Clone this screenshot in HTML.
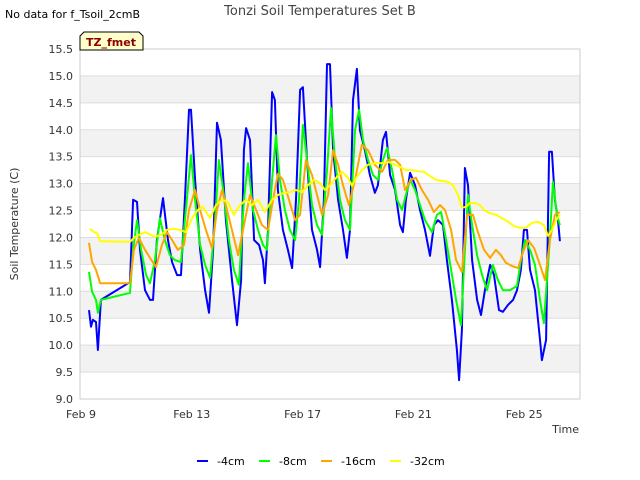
<!DOCTYPE html>
<html><head><meta charset="utf-8"><style>
body{margin:0;background:#fff;}
svg{display:block;font-family:"DejaVu Sans","Liberation Sans",sans-serif;}
</style></head><body>
<svg id="chart" width="640" height="480" viewBox="0 0 640 480">
<rect x="0" y="0" width="640" height="480" fill="#fff"/>
<g id="bands"></g>
<g id="grid"></g>
<rect x="80" y="49" width="500" height="350" fill="none" stroke="#ccc" stroke-width="1"/>
<g id="yticks"></g>
<g id="xticks"></g>
<g id="series"></g>
<text x="5" y="18" font-size="11" fill="#000">No data for f_Tsoil_2cmB</text>
<text x="320" y="15" font-size="13" fill="#444" text-anchor="middle">Tonzi Soil Temperatures Set B</text>
<path d="M84,32 L139,32 L143,36 L143,50 L80,50 L80,36 Z" fill="#ffffcc" stroke="#000" stroke-width="1"/>
<text x="111" y="46" font-size="11" font-weight="bold" fill="#8b0000" text-anchor="middle">TZ_fmet</text>
<text transform="translate(18,224) rotate(-90)" font-size="11" fill="#333" text-anchor="middle">Soil Temperature (C)</text>
<text x="579" y="433" font-size="11" fill="#333" text-anchor="end">Time</text>
<g>
<line x1="197" y1="461" x2="208" y2="461" stroke="#0000ff" stroke-width="2"/>
<text x="217" y="465" font-size="11" fill="#000">-4cm</text>
<line x1="259" y1="461" x2="270" y2="461" stroke="#00ff00" stroke-width="2"/>
<text x="279" y="465" font-size="11" fill="#000">-8cm</text>
<line x1="321" y1="461" x2="332" y2="461" stroke="#ffa500" stroke-width="2"/>
<text x="341" y="465" font-size="11" fill="#000">-16cm</text>
<line x1="390" y1="461" x2="401" y2="461" stroke="#ffff00" stroke-width="2"/>
<text x="410" y="465" font-size="11" fill="#000">-32cm</text>
</g>
</svg>
<script>
const yTicks=[9.0,9.5,10.0,10.5,11.0,11.5,12.0,12.5,13.0,13.5,14.0,14.5,15.0,15.5];
const xTickDays=[0,4,8,12,16];
const xTickLabels=["Feb 9","Feb 13","Feb 17","Feb 21","Feb 25"];
const d4=[0.29,0.36,0.43,0.54,0.61,0.72,1.77,1.88,2.02,2.13,2.31,2.49,2.60,2.74,2.96,3.14,3.29,3.47,3.61,3.75,3.90,3.97,4.12,4.30,4.48,4.62,4.77,4.91,5.05,5.23,5.45,5.63,5.78,5.88,5.96,6.10,6.25,6.43,6.57,6.64,6.75,6.90,7.00,7.11,7.29,7.47,7.62,7.76,7.91,8.01,8.16,8.34,8.52,8.63,8.77,8.88,8.99,9.10,9.28,9.46,9.60,9.71,9.82,9.96,10.07,10.25,10.43,10.61,10.72,10.90,11.01,11.16,11.34,11.52,11.62,11.73,11.88,12.06,12.24,12.42,12.60,12.74,12.89,13.07,13.21,13.39,13.57,13.65,13.75,13.86,13.97,14.12,14.30,14.44,14.58,14.77,14.91,15.09,15.23,15.42,15.60,15.74,15.88,15.99,16.10,16.21,16.39,16.57,16.64,16.79,16.90,17.00,17.11,17.22,17.29];
const t4=[10.65,10.34,10.47,10.43,9.91,10.84,11.17,12.70,12.66,11.77,11.02,10.84,10.84,11.95,12.73,11.95,11.54,11.30,11.30,12.70,14.37,14.37,13.07,11.77,11.02,10.60,11.77,14.13,13.81,12.32,11.21,10.37,11.21,13.62,14.03,13.81,11.95,11.86,11.58,11.15,12.14,14.70,14.55,12.88,12.14,11.77,11.43,12.70,14.74,14.79,13.44,12.14,11.77,11.45,12.70,15.22,15.22,13.62,12.70,12.14,11.62,12.14,14.55,15.13,13.99,13.62,13.16,12.83,12.97,13.81,13.96,13.16,12.88,12.23,12.10,12.70,13.20,12.97,12.51,12.14,11.66,12.23,12.32,12.23,11.58,10.84,9.91,9.35,10.28,13.29,12.97,11.58,10.84,10.56,11.02,11.49,11.30,10.65,10.62,10.75,10.84,11.02,11.40,12.14,12.14,11.40,11.02,10.10,9.72,10.10,13.59,13.59,12.70,12.32,11.93];
const d8=[0.29,0.40,0.54,0.61,0.72,1.77,1.88,2.02,2.17,2.35,2.49,2.67,2.85,3.03,3.21,3.39,3.61,3.75,3.97,4.12,4.30,4.48,4.66,4.84,4.98,5.16,5.34,5.52,5.70,5.88,6.03,6.21,6.39,6.57,6.71,6.90,7.04,7.18,7.36,7.54,7.73,7.87,8.01,8.16,8.34,8.52,8.70,8.88,9.03,9.17,9.35,9.53,9.71,9.89,10.04,10.18,10.36,10.54,10.72,10.90,11.05,11.23,11.41,11.59,11.73,11.88,12.06,12.24,12.42,12.67,12.85,13.00,13.18,13.36,13.54,13.72,13.86,13.97,14.12,14.30,14.48,14.66,14.87,15.05,15.23,15.49,15.74,15.88,16.03,16.21,16.39,16.57,16.71,16.90,17.04,17.18,17.29];
const t8=[11.36,10.99,10.84,10.60,10.84,10.97,11.77,12.32,11.77,11.30,11.15,11.58,12.36,11.95,11.67,11.58,11.54,12.32,13.53,12.70,11.86,11.49,11.25,12.32,13.44,12.79,11.95,11.40,11.12,12.70,13.38,12.51,12.14,11.86,11.77,13.07,13.90,13.07,12.51,12.14,11.95,12.70,14.09,13.44,12.60,12.23,12.05,13.25,14.40,13.44,12.70,12.32,12.14,13.99,14.37,13.81,13.44,13.16,13.07,13.44,13.66,13.25,12.70,12.51,12.79,13.07,12.88,12.60,12.32,12.10,12.42,12.47,11.95,11.40,10.84,10.37,11.77,12.79,12.23,11.67,11.30,11.02,11.49,11.21,11.02,11.02,11.10,11.58,11.95,11.77,11.49,10.84,10.41,11.77,13.03,12.42,12.23];
const d16=[0.29,0.40,0.54,0.69,1.77,1.91,2.09,2.31,2.49,2.71,2.92,3.10,3.29,3.50,3.72,3.90,4.12,4.30,4.51,4.73,4.91,5.09,5.27,5.49,5.67,5.85,6.10,6.32,6.53,6.75,6.93,7.11,7.29,7.51,7.73,7.91,8.12,8.34,8.52,8.70,8.92,9.10,9.28,9.46,9.67,9.89,10.14,10.36,10.61,10.87,11.08,11.34,11.52,11.70,11.91,12.09,12.31,12.53,12.74,12.96,13.14,13.36,13.54,13.75,13.94,14.15,14.33,14.55,14.77,14.98,15.16,15.34,15.56,15.78,15.96,16.14,16.36,16.57,16.75,16.93,17.11,17.29];
const t16=[11.90,11.54,11.40,11.15,11.15,11.77,11.99,11.77,11.62,11.45,11.86,12.10,11.95,11.77,11.86,12.51,12.88,12.51,12.14,11.80,12.51,12.88,12.51,12.05,11.67,12.14,12.79,12.51,12.23,12.14,12.70,13.18,13.07,12.70,12.32,12.42,13.44,13.16,12.79,12.42,12.79,13.62,13.35,12.97,12.60,13.07,13.72,13.62,13.35,13.22,13.44,13.44,13.35,12.88,13.07,13.11,12.88,12.70,12.47,12.60,12.51,12.14,11.58,11.36,12.42,12.42,12.10,11.77,11.62,11.77,11.67,11.53,11.47,11.43,11.73,11.95,11.80,11.49,11.21,11.95,12.42,12.47];
const d32=[0.32,0.47,0.58,0.69,1.77,1.95,2.31,2.67,2.92,3.10,3.32,3.57,3.79,4.01,4.22,4.40,4.66,4.87,5.09,5.30,5.52,5.74,5.96,6.17,6.39,6.64,6.90,7.11,7.33,7.54,7.76,7.98,8.19,8.41,8.63,8.81,8.99,9.21,9.42,9.64,9.78,9.93,10.14,10.36,10.61,10.87,11.12,11.34,11.52,11.73,11.95,12.17,12.38,12.60,12.82,13.03,13.25,13.43,13.61,13.75,13.90,14.04,14.22,14.40,14.55,14.77,14.98,15.20,15.42,15.63,15.85,16.06,16.28,16.50,16.71,16.86,17.00,17.15,17.29];
const t32=[12.16,12.10,12.08,11.93,11.92,12.01,12.10,12.01,12.06,12.14,12.16,12.14,12.10,12.36,12.51,12.57,12.36,12.60,12.70,12.66,12.42,12.60,12.70,12.60,12.70,12.47,12.70,12.79,12.83,12.84,12.88,12.84,12.97,13.07,13.01,12.88,12.97,13.11,13.22,13.11,12.96,13.11,13.25,13.35,13.38,13.38,13.40,13.35,13.31,13.25,13.25,13.23,13.22,13.14,13.07,13.05,13.03,12.97,12.79,12.55,12.57,12.64,12.64,12.60,12.51,12.45,12.42,12.36,12.29,12.21,12.18,12.18,12.27,12.29,12.23,12.03,12.14,12.32,12.42];

const NS='http://www.w3.org/2000/svg';
const X0=81,PXD=27.7,Y0=399,PXV=53.85,YMIN=9.0;
function xs(d){return X0+d*PXD;}
function ys(v){return Y0-(v-YMIN)*PXV;}
function mk(tag,attrs,parent){const e=document.createElementNS(NS,tag);for(const k in attrs)e.setAttribute(k,attrs[k]);parent.appendChild(e);return e;}
const bands=document.getElementById('bands'),grid=document.getElementById('grid'),yt=document.getElementById('yticks'),xt=document.getElementById('xticks'),ser=document.getElementById('series');
for(let i=0;i<yTicks.length-1;i++){
  if(i%2===1){
    const r=mk('rect',{x:80,y:ys(yTicks[i+1]),width:500,height:ys(yTicks[i])-ys(yTicks[i+1]),fill:'#f2f2f2'},bands);
    
    
  }
}
yTicks.forEach(v=>{
  const l=mk('line',{x1:80,x2:580,y1:ys(v),y2:ys(v),stroke:'#ddd','stroke-width':1},grid);
  
  
  const t=mk('text',{x:73,y:ys(v)+4,'font-size':11,fill:'#333','text-anchor':'end'},yt);
  t.textContent=v.toFixed(1);
  
  
});
xTickDays.forEach((d,i)=>{
  const t=mk('text',{x:xs(d),y:418,'font-size':11,fill:'#333','text-anchor':'middle'},xt);
  t.textContent=xTickLabels[i];
  
  
});
const all=[[d4,t4,'#0000ff','line-4cm'],[d8,t8,'#00ff00','line-8cm'],[d16,t16,'#ffa500','line-16cm'],[d32,t32,'#ffff00','line-32cm']];
all.forEach(s=>{
  const pts=s[0].map((d,i)=>xs(d).toFixed(1)+','+ys(s[1][i]).toFixed(1)).join(' ');
  const p=mk('polyline',{points:pts,fill:'none',stroke:s[2],'stroke-width':2,'stroke-linejoin':'round'},ser);
  
  
});
</script>
</body></html>
